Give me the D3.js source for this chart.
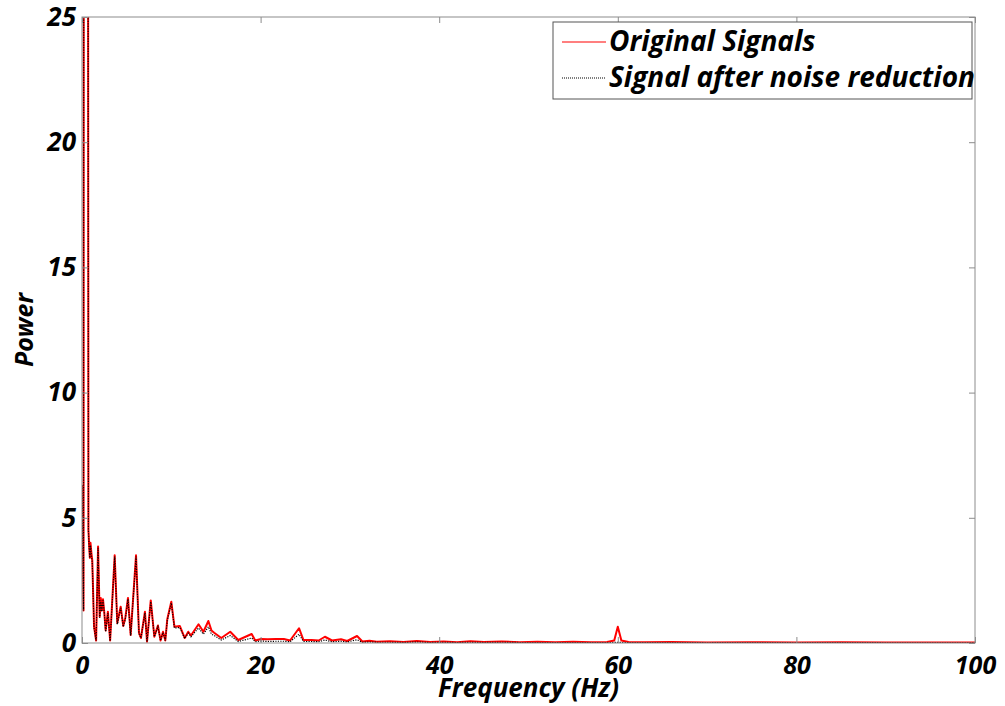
<!DOCTYPE html>
<html>
<head>
<meta charset="utf-8">
<script src="https://cdn.jsdelivr.net/npm/d3@7"></script>
<style>
  html, body { margin: 0; padding: 0; background: #fff; }
  svg { display: block; }
  text { font-family: "Open Sans", "Noto Sans", sans-serif; font-weight: 700; font-style: italic; fill: #000; }
</style>
</head>
<body>
<svg id="chart" width="1005" height="706"></svg>
<script>
// Power spectrum vertices (Hz) and power values
const freq = [0.00, 0.17, 0.22, 0.40, 0.63, 0.72, 0.80, 0.88, 0.95, 1.05, 1.15, 1.35, 1.58, 1.80, 1.98,
  2.10, 2.22, 2.35, 2.50, 2.65, 2.90, 3.15, 3.66, 3.95, 4.33, 4.62, 4.85, 5.15, 5.45, 6.05,
  6.38, 6.60, 7.05, 7.28, 7.70, 8.10, 8.50, 8.80, 9.07, 9.33, 9.55, 10.00, 10.35, 10.95, 11.50,
  11.90, 12.20, 13.05, 13.60, 14.15, 14.50, 14.80, 15.60, 16.60, 17.50, 18.50, 19.00, 19.40, 20.05, 20.80,
  21.70, 22.60, 23.30, 24.30, 24.80, 25.70, 26.50, 27.20, 28.00, 29.00, 29.70, 30.80, 31.40, 32.20, 33.00,
  34.50, 36.00, 37.50, 39.00, 40.50, 42.00, 43.50, 45.00, 47.00, 49.00, 51.00, 53.00, 55.00, 57.00, 58.80,
  59.60, 60.00, 60.40, 61.20, 63.00, 66.00, 70.00, 75.00, 80.00, 85.00, 90.00, 95.00, 100.00];

const originalPower = [6.3, 1.3, 60, 120, 60, 4.5, 3.9, 3.4, 4.0, 3.6, 3.3, 0.65, 0.1, 3.85, 1.05,
  1.8, 1.3, 1.75, 1.2, 0.5, 1.25, 0.1, 3.5, 0.8, 1.45, 0.68, 1.0, 1.8, 0.32, 3.5,
  0.4, 0.2, 1.25, 0.05, 1.7, 0.25, 0.7, 0.1, 0.45, 0.1, 0.95, 1.65, 0.65, 0.68, 0.2,
  0.45, 0.3, 0.75, 0.45, 0.88, 0.5, 0.41, 0.2, 0.45, 0.12, 0.28, 0.36, 0.1, 0.16, 0.15,
  0.16, 0.16, 0.1, 0.59, 0.12, 0.12, 0.1, 0.25, 0.1, 0.15, 0.08, 0.28, 0.06, 0.09, 0.05,
  0.07, 0.04, 0.08, 0.04, 0.06, 0.03, 0.07, 0.04, 0.06, 0.03, 0.05, 0.03, 0.05, 0.03, 0.04,
  0.1, 0.65, 0.1, 0.04, 0.03, 0.04, 0.02, 0.03, 0.02, 0.03, 0.02, 0.02, 0.02];

const denoisedPower = [6.3, 1.3, 60, 120, 60, 4.5, 3.8, 3.4, 3.9, 3.5, 3.2, 0.6, 0.1, 3.8, 1.0,
  1.7, 1.25, 1.7, 1.2, 0.45, 1.2, 0.08, 3.45, 0.75, 1.4, 0.65, 0.95, 1.75, 0.3, 3.45,
  0.38, 0.2, 1.2, 0.05, 1.65, 0.25, 0.65, 0.1, 0.42, 0.1, 0.9, 1.6, 0.6, 0.62, 0.18,
  0.4, 0.25, 0.6, 0.35, 0.65, 0.35, 0.3, 0.12, 0.3, 0.06, 0.15, 0.2, 0.05, 0.08, 0.06,
  0.07, 0.07, 0.05, 0.35, 0.06, 0.06, 0.05, 0.12, 0.05, 0.07, 0.04, 0.13, 0.03, 0.04, 0.03,
  0.03, 0.02, 0.04, 0.02, 0.03, 0.02, 0.03, 0.02, 0.03, 0.02, 0.02, 0.02, 0.02, 0.02, 0.02,
  0.02, 0.03, 0.02, 0.02, 0.02, 0.02, 0.01, 0.02, 0.01, 0.02, 0.01, 0.01, 0.01];

const xTicks = [0, 20, 40, 60, 80, 100];
const yTicks = [0, 5, 10, 15, 20, 25];
const seriesNames = ["Original Signals", "Signal after noise reduction"];

const margin = { left: 82, top: 17, right: 30, bottom: 63 };
const W = 1005, H = 706;
const iw = W - margin.left - margin.right;
const ih = H - margin.top - margin.bottom;

const svg = d3.select("#chart");
const g = svg.append("g").attr("transform", `translate(${margin.left},${margin.top})`);

const x = d3.scaleLinear().domain([0, 100]).range([0, iw]);
const y = d3.scaleLinear().domain([0, 25]).range([ih, 0]);

svg.append("defs").append("clipPath").attr("id", "plotClip")
  .append("rect").attr("x", 0).attr("y", 0).attr("width", iw).attr("height", ih);

// Spectrum lines
const line = vals => d3.line()
  .x((d, i) => x(freq[i]))
  .y((d, i) => y(vals[i]))(vals);

const plot = g.append("g").attr("clip-path", "url(#plotClip)");
plot.append("path").attr("d", line(originalPower))
  .attr("fill", "none").attr("stroke", "#ff0000").attr("stroke-width", 2)
  .attr("stroke-linejoin", "round");
plot.append("path").attr("d", line(denoisedPower))
  .attr("fill", "none").attr("stroke", "#000").attr("stroke-width", 1.2)
  .attr("stroke-dasharray", "1.2,1.3");

// Axes box with inward ticks on every side
const axisColor = "#8c8c8c";
const tickLen = 6;
const styleAxis = sel => {
  sel.select(".domain").remove();
  sel.selectAll(".tick line").attr("stroke", axisColor);
};
g.append("g").attr("transform", `translate(0,${ih})`)
  .call(d3.axisBottom(x).tickValues(xTicks).tickSize(-tickLen).tickPadding(13))
  .call(styleAxis)
  .call(s => s.selectAll("text").attr("font-size", 25).attr("dy", "0.71em"));
g.append("g")
  .call(d3.axisTop(x).tickValues(xTicks).tickSize(-tickLen).tickFormat(""))
  .call(styleAxis);
g.append("g")
  .call(d3.axisLeft(y).tickValues(yTicks).tickSize(-tickLen).tickPadding(6))
  .call(styleAxis)
  .call(s => s.selectAll("text").attr("font-size", 26));
g.append("g").attr("transform", `translate(${iw},0)`)
  .call(d3.axisRight(y).tickValues(yTicks).tickSize(-tickLen).tickFormat(""))
  .call(styleAxis);
g.selectAll(".tick text").attr("fill", "#000").style("font-family", null);

g.append("rect").attr("x", 0).attr("y", 0).attr("width", iw).attr("height", ih)
  .attr("fill", "none").attr("stroke", axisColor).attr("stroke-width", 1);

// Axis titles
g.append("text").attr("x", iw / 2).attr("y", ih + 54)
  .attr("text-anchor", "middle").attr("font-size", 26).text("Frequency (Hz)");
svg.append("text").attr("transform", `translate(33,${margin.top + ih / 2}) rotate(-90)`)
  .attr("text-anchor", "middle").attr("font-size", 25).text("Power");

// Legend
const lg = svg.append("g");
lg.append("rect").attr("x", 553).attr("y", 22).attr("width", 419).attr("height", 77)
  .attr("fill", "#fff").attr("stroke", "#555").attr("stroke-width", 1);
const legendStyles = [
  { color: "#ff0000", dash: null, width: 1.2 },
  { color: "#000", dash: "1,1", width: 1 }
];
seriesNames.forEach((name, i) => {
  const cy = 42 + i * 36;
  lg.append("line").attr("x1", 562).attr("x2", 606).attr("y1", cy).attr("y2", cy)
    .attr("stroke", legendStyles[i].color).attr("stroke-width", legendStyles[i].width)
    .attr("stroke-dasharray", legendStyles[i].dash);
  lg.append("text").attr("x", 609).attr("y", cy + 9).attr("font-size", 28).text(name);
});
</script>
</body>
</html>
